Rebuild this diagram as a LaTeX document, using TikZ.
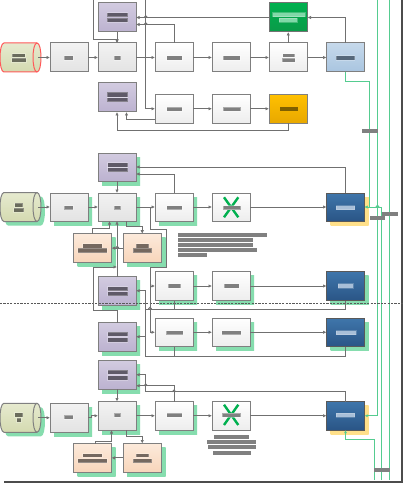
\documentclass[tikz,border=0pt]{standalone}
\usetikzlibrary{shadows,arrows.meta}
\definecolor{ln}{HTML}{707070}
\definecolor{brd}{HTML}{7F7F7F}
\definecolor{busgreen}{HTML}{55CC90}
\definecolor{shg}{HTML}{86DDAE}
\definecolor{shy}{HTML}{FFE08A}
\definecolor{purA}{HTML}{D2CBE0}\definecolor{purB}{HTML}{BCB2D0}\definecolor{purD}{HTML}{5F5A68}
\definecolor{peA}{HTML}{FCEADB}\definecolor{peB}{HTML}{F8D5BA}\definecolor{peD}{HTML}{75685F}
\definecolor{grA}{HTML}{00B04F}\definecolor{grB}{HTML}{0A9A48}\definecolor{grL}{HTML}{80D8A8}
\definecolor{orA}{HTML}{FFC000}\definecolor{orB}{HTML}{E8A800}\definecolor{orD}{HTML}{7F6000}
\definecolor{lbA}{HTML}{C6D9EB}\definecolor{lbB}{HTML}{A9C5E0}\definecolor{lbD}{HTML}{55677A}
\definecolor{dbA}{HTML}{3F76AB}\definecolor{dbB}{HTML}{2A5586}\definecolor{dbL}{HTML}{A8BFD8}
\definecolor{cyA}{HTML}{E6EACF}\definecolor{cyB}{HTML}{D4DAB0}\definecolor{cyD}{HTML}{6A6C5C}
\tikzset{
 x=1pt,y=-1pt,
 boxbase/.style={rectangle,draw=brd,line width=1pt,inner sep=0pt,outer sep=0pt},
 gbA/.style={boxbase,top color=black!5,bottom color=black!11},
 gbB/.style={boxbase,top color=white,bottom color=black!7},
 purplebox/.style={boxbase,top color=purA,bottom color=purB},
 peachbox/.style={boxbase,top color=peA,bottom color=peB},
 greenbox/.style={boxbase,draw=black!55,top color=grA,bottom color=grB},
 orangebox/.style={boxbase,draw=black!50,top color=orA,bottom color=orB},
 lightbluebox/.style={boxbase,top color=lbA,bottom color=lbB},
 darkbox/.style={boxbase,draw=black!65,top color=dbA,bottom color=dbB},
 shG/.style={copy shadow={shadow xshift=4pt,shadow yshift=-4pt,fill=shg,draw=none,top color=shg,bottom color=shg}},
 shY/.style={copy shadow={shadow xshift=4pt,shadow yshift=-4pt,fill=shy,draw=none,top color=shy,bottom color=shy}},
 drumanchor/.style={rectangle,inner sep=0pt,outer sep=0pt,minimum width=41pt,minimum height=29pt},
 conn/.style={draw=ln,line width=1pt},
 arr/.style={conn,-{Latex[length=3.5pt,width=3.5pt]}},
 gconn/.style={draw=busgreen,line width=1pt},
 garr/.style={gconn,-{Latex[length=3.2pt,width=3.2pt]}},
 barG/.style={fill=black!50,draw=white,draw opacity=.35,line width=0.9pt},
 barP/.style={fill=purD,draw=white,draw opacity=.25,line width=0.7pt},
 barE/.style={fill=peD,draw=white,draw opacity=.25,line width=0.7pt},
 barC/.style={fill=cyD,draw=white,draw opacity=.25,line width=0.7pt},
 barL/.style={fill=dbL,draw=white,draw opacity=.2,line width=0.7pt},
 barN/.style={fill=grL,draw=white,draw opacity=.25,line width=0.7pt},
 barO/.style={fill=orD,draw=none},
 barB/.style={fill=lbD,draw=white,draw opacity=.25,line width=0.7pt},
 barT/.style={fill=black!50,draw=none},
 crossmark/.style={draw=grA,line width=2.4pt},
}
\newcommand\mkbox[6]{\pgfmathsetmacro\bw{#5-#3}\pgfmathsetmacro\bh{#6-#4}%
 \node[#2,minimum width=\bw pt,minimum height=\bh pt] (#1) at ({(#3+#5)/2},{(#4+#6)/2}) {};}
\newcommand\drumoutline{(-16.5,-14.5) -- (16.5,-14.5) .. controls (21.8,-14.5) and (21.8,14.5) .. (16.5,14.5) -- (-16.5,14.5) .. controls (-21.8,14.5) and (-21.8,-14.5) .. cycle}
% name, cx, cy, outline colour, shadow style
\newcommand\mkdrum[5]{%
 \begin{scope}[shift={(#2,#3)}]
  \path[#5,shift={(4,4)}] \drumoutline;
  \path[draw=#4,line width=1pt,top color=cyA,bottom color=cyB] \drumoutline;
  \draw[#4,line width=1pt] (16.5,-14.5) .. controls (11.2,-14.5) and (11.2,14.5) .. (16.5,14.5);
 \end{scope}
 \node[drumanchor] (#1) at (#2,#3) {};}
\newcommand\blk[5]{\path[#1] (#2,#3) rectangle (#4,#5);}
\newcommand\hopover[2]{\draw[conn] (#1,#2) ++(-1.6,0) .. controls +(0,-2.2) and +(0,-2.2) .. ++(3.2,0);}
\begin{document}
\begin{tikzpicture}
\useasboundingbox (0,0) rectangle (403,484);
\fill[white] (0,0) rectangle (403,484);
% frame shadow
\fill[black!70] (401,0) rectangle (403,483);
\fill[black!70] (4,480.5) rectangle (403,483);

\coordinate (gA) at (377.5,0);
\coordinate (gB) at (389.5,0);
\coordinate (gBe) at (389.5,480);
\coordinate (gC) at (381.5,480);
\coordinate (gD) at (369.5,81.5);
\coordinate (gE) at (374.5,480);

% row 1
\mkdrum{cy1}{20.5}{57.5}{red!65}{draw=none}
\mkbox{a1}{gbA}{50}{43}{88}{72}
\mkbox{b1}{gbA}{98}{43}{136}{72}
\mkbox{c1}{gbB}{155}{43}{193}{72}
\mkbox{d1}{gbB}{212}{43}{250}{72}
\mkbox{e1}{gbB}{269}{43}{307.5}{72}
\mkbox{f1}{lightbluebox}{326.5}{43}{364.5}{72}
\mkbox{P1}{purplebox}{98}{3}{136}{32}
\mkbox{G1}{greenbox}{269}{3}{307.5}{32}
\mkbox{P2}{purplebox}{98}{83}{136}{112}
\mkbox{c2}{gbB}{155}{94.5}{193}{123}
\mkbox{d2}{gbB}{212}{94.5}{250}{123}
\mkbox{O1}{orangebox}{269}{94.5}{307.5}{123}

% row 2
\mkdrum{cy2}{20.5}{207}{black!50}{fill=shg}
\mkbox{a3}{gbA,shG}{50}{193}{88}{221}
\mkbox{b3}{gbA,shG}{98}{193}{136}{221}
\mkbox{c3}{gbB,shG}{155}{193}{193}{221}
\mkbox{x3}{gbB}{212}{193}{250}{221}
\mkbox{k3}{darkbox,shY}{326.5}{193}{364.5}{221}
\mkbox{P3}{purplebox,shG}{98}{153}{136}{181}
\mkbox{pe1}{peachbox,shG}{73.5}{233.7}{111.5}{262.5}
\mkbox{pe2}{peachbox,shG}{123}{233.7}{161.5}{262.5}
\mkbox{P4}{purplebox,shG}{98}{276.5}{136}{305}
\mkbox{c4}{gbB,shG}{155}{271.5}{193}{300.5}
\mkbox{d4}{gbB,shG}{212}{271.5}{250}{300.5}
\mkbox{k4}{darkbox,shG}{326.5}{271.5}{364.5}{300.5}

% row 3
\mkbox{P5}{purplebox,shG}{98}{322.5}{136}{351}
\mkbox{c5}{gbB,shG}{155}{318}{193}{346.5}
\mkbox{d5}{gbB,shG}{212}{318}{250}{346.5}
\mkbox{k5}{darkbox,shG}{326.5}{318}{364.5}{346.5}

% row 4
\mkbox{P6}{purplebox,shG}{98}{360.5}{136}{389}
\mkdrum{cy6}{20.5}{417.75}{black!50}{fill=shg}
\mkbox{a6}{gbA,shG}{50}{403.5}{88}{432}
\mkbox{b6}{gbA,shG}{98}{401.5}{136}{430}
\mkbox{c6}{gbB,shG}{155}{401.5}{193}{430}
\mkbox{x6}{gbB}{212}{401.5}{250}{430}
\mkbox{k6}{darkbox,shY}{326.5}{401.5}{364.5}{430}
\mkbox{pe3}{peachbox,shG}{73.5}{443.5}{111.5}{472.3}
\mkbox{pe4}{peachbox,shG}{123}{443.5}{161.5}{472.3}

% green connectors, drawn first so that they lie under the grey ones
\draw[gconn,{Latex[length=3pt,width=3pt]}-] (k6.south) -- ++(0,9) -| (gE);
\draw[gconn] (gB) -- (gBe);
\draw[gconn] (f1.south) |- (gD);
\draw[garr] (gD) |- (k3.east);
\draw[garr] (gC) |- (k3.east);
\draw[gconn] (377.5,207) ++(-1.6,0) .. controls +(0,-2.2) and +(0,-2.2) .. ++(3.2,0);
\draw[garr] (gA) |- (k6.east);

% dashed separator
\coordinate (dsA) at (0,303.7);
\coordinate (dsB) at (403,303.7);
\draw[black!65,line width=0.9pt,dash pattern=on 2.2pt off 1.2pt] (dsA) -- (dsB);

% connectors row 1
\coordinate (t1) at (93.3,0);
\coordinate (t2) at (145.7,0);
\draw[arr] ([xshift=-3pt]cy1.east) -- (a1.west);
\draw[arr] (a1.east) -- (b1.west);
\draw[arr] (b1.east) -- (c1.west);
\draw[arr] (c1.east) -- (d1.west);
\draw[arr] (d1.east) -- (e1.west);
\draw[arr] (e1.east) -- (f1.west);
\draw[arr] (P1.south) -- (b1.north);
\draw[arr] (t1) |- ([yshift=3.5pt]b1.north) -- (b1.north);
\draw[arr] (G1.west) -- (P1.east);
\draw[arr] (c1.north) |- ([yshift=-7pt]P1.east);
\draw[arr] (e1.north) -- (G1.south);
\draw[arr] (f1.north) |- (G1.east);
\draw[arr] (t2) |- (c2.west);
\draw[arr] ([yshift=-10.5pt]c2.west) -| ([xshift=9.5pt]P2.south);
\draw[arr] (O1.south) -- ++(0,7.7) -| (P2.south);
\draw[arr] (c2.east) -- (d2.west);
\draw[arr] (d2.east) -- (O1.west);
\hopover{145.7}{17.5}\hopover{145.7}{24.5}

% connectors row 2
\coordinate (j1) at (150,207);
\coordinate (j2) at (145.7,309);
\coordinate (j3) at (145.7,356);
\draw[arr] ([xshift=-3pt]cy2.east) -- (a3.west);
\draw[arr] (a3.east) -- (b3.west);
\draw[arr] (b3.east) -- (c3.west);
\draw[arr] (c3.east) -- (x3.west);
\draw[arr] (x3.east) -- (k3.west);
\draw[arr] (P3.south) -- (b3.north);
\draw[arr] (c3.north) |- ([yshift=-7pt]P3.east);
\draw[arr] (k3.north) |- (P3.east);
\draw[arr] (pe1.north) -- ++(0,-5.2) -| ([xshift=-7.5pt]b3.south);
\draw[arr] (P4.north) -- (b3.south);
\draw[arr] (P5.north) -- ++(0,-12.5) -- ++(-23.7,0) -- ++(0,-43) -- ++(23.7,0);
\draw[arr] ([xshift=9.5pt]b3.south) -- ++(0,5) -| (pe2.north);
\draw[arr] (pe2.west) -- (pe1.east);
\hopover{117.2}{248}
\draw[arr] (j1) -- ++(0,22) -- ++(16,0) -- ++(0,38) -- ++(-16,0) |- (c5.west);
\draw[arr] ([xshift=-5pt]c4.west) -- (c4.west);
\draw[arr] (c4.east) -- (d4.west);
\draw[arr] (d4.east) -- (k4.west);
\draw[conn] (c4.south) -- (c4.south |- j2);
\draw[arr] (k4.south) |- (j2) |- (P4.east);
\hopover{150}{309}
\draw[arr] (c5.east) -- (d5.west);
\draw[arr] (d5.east) -- (k5.west);
\draw[conn] (c5.south) -- (c5.south |- j3);
\draw[arr] (k5.south) |- (j3) |- (P5.east);
\draw[conn] (j3) -- (j2);

% connectors row 4
\coordinate (j4) at (145.7,391.7);
\draw[arr] (k6.north) |- (j4) |- (P6.east);
\draw[arr] (c6.north) |- ([yshift=-11pt]P6.east);
\hopover{145.7}{385.7}\hopover{174}{391.7}
\draw[arr] (P6.south) -- (b6.north);
\draw[arr] ([xshift=-3pt]cy6.east) -- (a6.west);
\draw[arr] (a6.east) -- ++(3.5,0) -- ++(0,-2) -- (b6.west);
\draw[arr] (b6.east) -- (c6.west);
\draw[arr] (c6.east) -- (x6.west);
\draw[arr] (x6.east) -- (k6.west);
\draw[arr] ([xshift=2.5pt]pe3.north) -- ++(0,-1.8) -| ([xshift=-5.5pt]b6.south);
\draw[arr] ([xshift=9.5pt]b6.south) -- ++(0,6.5) -| (pe4.north);
\draw[arr] (pe4.west) -- (pe3.east);

% crosses
\draw[crossmark] (224,197.3) -- (238.3,217.3);
\draw[crossmark] (238.3,197.3) -- (224,217.3);
\draw[crossmark] (224,404.7) -- (238.3,425);
\draw[crossmark] (238.3,404.7) -- (224,425);

% row 1 blocks
\blk{barC}{12.3}{53.7}{25.3}{57.3}\blk{barC}{11.7}{58.3}{26}{62.3}
\blk{barG}{64}{55.7}{73.3}{60.3}
\blk{barG}{114.3}{55.7}{120.7}{60.3}
\blk{barG}{166.7}{55.7}{182.3}{60}
\blk{barG}{223}{55.7}{240.3}{60.3}
\blk{barG}{282.7}{53.7}{294.7}{57.3}\blk{barG}{282}{58.3}{295}{62.3}
\blk{barB}{336.3}{55.7}{354.7}{60.3}
\blk{barP}{107.3}{12.7}{127.7}{16.7}\blk{barP}{107.3}{18.3}{127.7}{22.3}
\blk{barN}{272.7}{12.7}{305}{16.7}\blk{barN}{279.3}{18.3}{297.3}{22.3}
\blk{barP}{107.3}{92.3}{127.7}{97}\blk{barP}{107.3}{97.7}{127.7}{101.7}
\blk{barG}{166.7}{107.3}{182.3}{111.3}
\blk{barG}{223}{107.3}{240.7}{111.3}
\blk{barO}{280}{107.3}{297.7}{111.3}

% row 2 blocks
\blk{barC}{14.7}{203}{22.7}{207.3}\blk{barC}{13.7}{208.3}{23.7}{212.3}
\blk{barG}{64}{205.7}{73.3}{209.7}
\blk{barG}{114.3}{205.7}{120.7}{209.7}
\blk{barG}{166.7}{205.7}{182.3}{209.7}
\blk{barG}{223}{205.7}{240.7}{209.7}
\blk{barL}{336.3}{205.7}{354.7}{209.7}
\blk{barP}{107.7}{162.7}{127.7}{167}\blk{barP}{107.7}{167.7}{127.7}{171.7}
\blk{barE}{82.7}{243.7}{102.3}{248}\blk{barE}{77.7}{248.3}{107.3}{252.7}
\blk{barE}{136}{243.7}{148.7}{248}\blk{barE}{133.3}{248.3}{151.7}{252.7}
\blk{barT}{178.3}{232.7}{267.3}{236.7}
\blk{barT}{178.3}{238.3}{252.7}{242.3}
\blk{barT}{178.3}{243}{252.7}{247}
\blk{barT}{178.3}{248.3}{257}{252.3}
\blk{barT}{178.3}{253.3}{206.7}{257.3}
\blk{barP}{107.7}{286.7}{127.7}{290.7}\blk{barP}{107.7}{291.7}{127.7}{295.7}
\blk{barG}{168}{283.7}{180.7}{288.3}
\blk{barG}{224.3}{283.7}{239.3}{288.3}
\blk{barL}{338}{283.7}{353.3}{288.3}

% row 3 blocks
\blk{barP}{107.7}{332.3}{127.7}{336.3}\blk{barP}{107.7}{337.7}{127.7}{342}
\blk{barG}{166}{330.7}{183.3}{334.7}
\blk{barG}{221.7}{330.7}{241.3}{334.7}
\blk{barL}{336}{330.7}{356}{334.7}

% row 4 blocks
\blk{barP}{107.7}{370.3}{127.7}{374.3}\blk{barP}{107.7}{375.7}{127.7}{380}
\blk{barC}{14.7}{412.7}{22.7}{417.3}\blk{barC}{16.7}{418}{21}{422.3}
\blk{barG}{64}{415.3}{73.3}{419.3}
\blk{barG}{114.3}{413.3}{120.7}{417.3}
\blk{barG}{166.7}{413.3}{182.3}{417.3}
\blk{barG}{222.3}{413.3}{240.7}{417.3}
\blk{barL}{336.3}{413.3}{354.7}{417.3}
\blk{barE}{82.7}{453.7}{102.3}{457.3}\blk{barE}{77.7}{458.7}{107.3}{462.7}
\blk{barE}{136}{453.7}{148.7}{457.3}\blk{barE}{133.3}{458.7}{151.7}{462.7}
\blk{barT}{214.3}{435.3}{248.7}{439}
\blk{barT}{206.7}{440.3}{256.3}{444}
\blk{barT}{207.7}{445.3}{256.3}{449.3}
\blk{barT}{212.7}{451}{250.7}{454.7}

% crossing redactions over buses
\blk{barT}{361.7}{128.5}{377.7}{132.5}
\blk{barT}{370}{216}{385}{220}
\blk{barT}{382}{212}{398}{216}
\blk{barT}{374}{467.7}{389.5}{471.7}
\end{tikzpicture}
\end{document}
